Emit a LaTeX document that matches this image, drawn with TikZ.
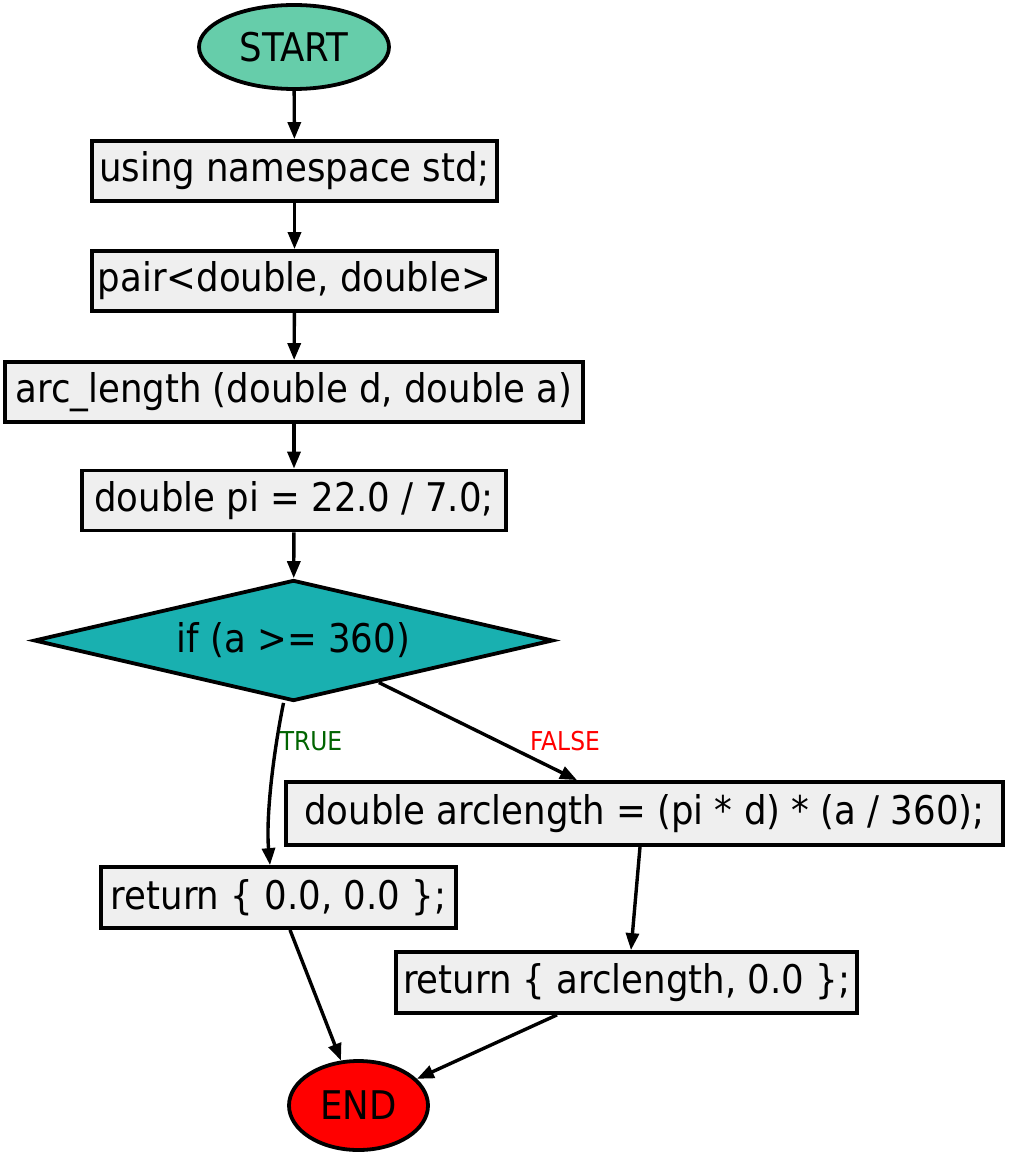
\documentclass[tikz,border=0pt]{standalone}
\usepackage{fontspec}
\setmainfont{DejaVu Sans Condensed}
\usetikzlibrary{shapes.geometric,arrows.meta}
\definecolor{startfill}{HTML}{66CDAA}
\definecolor{condfill}{HTML}{19B0B0}
\definecolor{boxfill}{HTML}{EFEFEF}
\definecolor{truecol}{HTML}{006400}
\definecolor{falsecol}{HTML}{FF0000}
\tikzset{
  stmt/.style={draw=black, line width=3.8pt, fill=boxfill, rectangle, inner sep=0pt,
    minimum height=60pt, font=\fontsize{39.5}{44}\selectfont},
  term/.style={draw=black, line width=3.8pt, ellipse, inner sep=0pt,
    font=\fontsize{39.5}{44}\selectfont},
  cond/.style={draw=black, line width=3.8pt, diamond, inner sep=0pt, aspect=4.3,
    fill=condfill, font=\fontsize{39.5}{44}\selectfont},
  flow/.style={line width=3.4pt, -{Triangle[length=17pt,width=13pt]}},
  edgelabel/.style={font=\fontsize{26}{30}\selectfont, inner sep=0pt}
}
\begin{document}
\begin{tikzpicture}[x=1pt,y=-1pt]
  \useasboundingbox (0,0) rectangle (1009,1153);
  % terminals
  \node[term, fill=startfill, minimum width=190pt, minimum height=84pt] (start) at (294,47) {START};
  \node[term, fill=falsecol, minimum width=139pt, minimum height=89pt] (end) at (358.5,1105.5) {END};
  % statements
  \node[stmt, minimum width=405pt] (ns) at (294.5,171) {using namespace std;};
  \node[stmt, minimum width=405pt] (pair) at (294.5,281) {pair<double, double>};
  \node[stmt, minimum width=578pt] (fn) at (294,392) {arc\_length (double d, double a)};
  \node[stmt, minimum width=424pt] (pi) at (294,500.5) {double pi = 22.0 / 7.0;};
  \node[cond, minimum width=519pt, minimum height=121pt] (if) at (293.5,640.5) {if (a >= 360)};
  \node[stmt, minimum width=717pt, minimum height=63pt] (arc) at (644.5,813.5) {double arclength = (pi * d) * (a / 360);};
  \node[stmt, minimum width=355pt, minimum height=61pt] (ret0) at (278.5,897.5) {return \{ 0.0, 0.0 \};};
  \node[stmt, minimum width=461pt, minimum height=61pt] (ret1) at (626.5,982.5) {return \{ arclength, 0.0 \};};
  % connectors
  \draw[flow] (start) -- (ns);
  \draw[flow] (ns) -- (pair);
  \draw[flow] (pair) -- (fn);
  \draw[flow] (fn) -- (pi);
  \draw[flow] (pi) -- (if);
  \draw[flow] ([xshift=-10pt]if.south) .. controls (272,760) and (266,820) .. ([xshift=-8.5pt]ret0.north);
  \draw[flow] (if) -- ([xshift=-67.5pt]arc.north);
  \draw[flow] ([xshift=-4.5pt]arc.south) -- ([xshift=4.5pt]ret1.north);
  \draw[flow] ([xshift=11.5pt]ret0.south) -- (end);
  \draw[flow] ([xshift=-69.5pt]ret1.south) -- (end);
  % branch labels
  \node[edgelabel, text=truecol] (tlabel) at (311,741) {TRUE};
  \node[edgelabel, text=falsecol] (flabel) at (565,741) {FALSE};
\end{tikzpicture}
\end{document}
